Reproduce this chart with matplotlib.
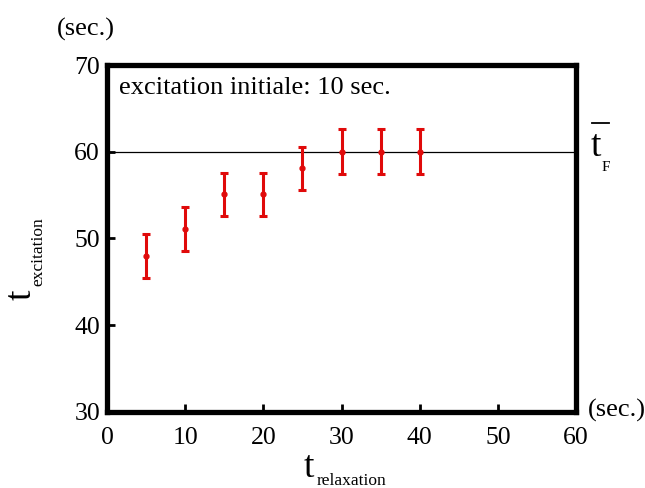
import matplotlib
matplotlib.use("Agg")
import matplotlib.pyplot as plt
from matplotlib.lines import Line2D

x_relax = [5, 10, 15, 20, 25, 30, 35, 40]
t_excit = [48.0, 51.1, 55.1, 55.1, 58.1, 60.0, 60.0, 60.0]
err = [2.5, 2.5, 2.5, 2.5, 2.5, 2.6, 2.6, 2.6]
t_F = 60
x_ticks = [0, 10, 20, 30, 40, 50, 60]
y_ticks = [30, 40, 50, 60, 70]

plt.rcParams['font.family'] = ['Liberation Serif', 'DejaVu Serif']

W, H = 645, 488
fig = plt.figure(figsize=(6.45, 4.88), dpi=100)
ax = fig.add_axes([107 / W, 1 - 412 / H, (576 - 107) / W, (412 - 65) / H])


def P(px, py):
    return px / W, 1 - py / H


ax.axhline(t_F, color='black', lw=0.9, zorder=1)
ax.errorbar(x_relax, t_excit, yerr=err, fmt='o', color='#e00a0a', ms=3.5,
            elinewidth=2.2, capsize=3.2, capthick=2.2, zorder=3)

ax.set_xlim(0, 60)
ax.set_ylim(30, 70)
ax.set_xticks(x_ticks)
ax.set_yticks(y_ticks)
ax.tick_params(direction='in', length=6, width=2, labelsize=18.5)
ax.tick_params(axis='x', pad=11)
ax.tick_params(axis='y', pad=5)
for s in ax.spines.values():
    s.set_linewidth(3.8)

ax.text(0.025, 0.935, 'excitation initiale: 10 sec.', transform=ax.transAxes,
        fontsize=19, va='center', ha='left')

fig.text(*P(57, 29), '(sec.)', fontsize=19, ha='left', va='center')
fig.text(*P(588, 410), '(sec.)', fontsize=19, ha='left', va='center')

# t_F label
fig.text(*P(591, 156), 't', fontsize=27, ha='left', va='baseline')
fig.text(*P(602, 171), 'F', fontsize=11, ha='left', va='baseline')
fig.add_artist(Line2D([592 / W, 609 / W], [1 - 123 / H] * 2,
                      transform=fig.transFigure, color='black', lw=1.3))

# x label
fig.text(*P(304, 477), 't', fontsize=27, ha='left', va='baseline')
fig.text(*P(317, 485), 'relaxation', fontsize=12.5, ha='left', va='baseline')

# y label
fig.text(*P(31, 300), 't', fontsize=27, ha='left', va='baseline',
         rotation=90, rotation_mode='anchor')
fig.text(*P(42, 286), 'excitation', fontsize=12.5, ha='left', va='baseline',
         rotation=90, rotation_mode='anchor')

fig.savefig('out.png', dpi=100)
